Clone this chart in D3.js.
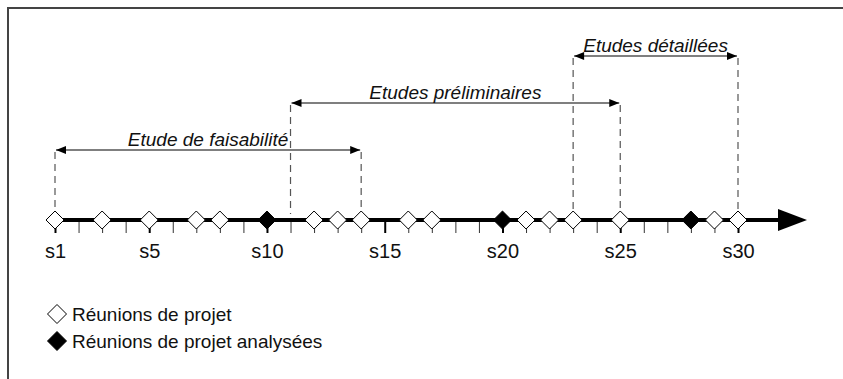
<!DOCTYPE html>
<html>
<head>
<meta charset="utf-8">
<script src="https://cdn.jsdelivr.net/npm/d3@7"></script>
<style>
  html, body { margin: 0; padding: 0; background: #fff; overflow: hidden; }
  svg { display: block; overflow: hidden; }
  text { font-family: "Liberation Sans", Arial, Helvetica, sans-serif; }
</style>
</head>
<body>
<svg id="chart" width="843" height="379"></svg>
<script>
// ---- data ----
const weeks = d3.range(1, 31);                       // s1 .. s30
const tickLabels = [1, 5, 10, 15, 20, 25, 30];        // labelled weeks
const meetings = [1, 3, 5, 7, 8, 12, 13, 14, 16, 17, 21, 22, 23, 25, 29, 30];
const analysedMeetings = [10, 20, 28];
const phaseNames = ["Etude de faisabilité", "Etudes préliminaires", "Etudes détaillées"];
const phaseStart = [1, 11, 23];
const phaseEnd = [14, 25, 30];
const phaseLevel = [0, 1, 2];
const legendLabels = ["Réunions de projet", "Réunions de projet analysées"];

// ---- layout ----
const svg = d3.select("#chart");
const axisY = 220;
const x = d3.scaleLinear().domain([1, 30]).range([55, 738]);
const yLevel = d3.scaleLinear().domain([0, 2]).range([150, 56]);

// frame (only top and left edges fall inside the picture)
svg.append("path")
  .attr("d", "M8,400 L8,8 L860,8")
  .attr("fill", "none").attr("stroke", "#444").attr("stroke-width", 2);

// arrow marker
const defs = svg.append("defs");
defs.append("marker")
  .attr("id", "ah")
  .attr("viewBox", "0 0 10 8")
  .attr("refX", 10).attr("refY", 4)
  .attr("markerWidth", 11).attr("markerHeight", 8)
  .attr("markerUnits", "userSpaceOnUse")
  .attr("orient", "auto-start-reverse")
  .append("path").attr("d", "M0,0 L10,4 L0,8 Z").attr("fill", "#000");

// dashed guides
phaseNames.forEach((n, i) => {
  [phaseStart[i], phaseEnd[i]].forEach(w => {
    svg.append("line")
      .attr("x1", x(w)).attr("x2", x(w))
      .attr("y1", yLevel(phaseLevel[i]) + 2).attr("y2", axisY - 6)
      .attr("stroke", "#555").attr("stroke-width", 1.2)
      .attr("stroke-dasharray", "7,5");
  });
});

// phase arrows + labels
const phases = svg.append("g");
phaseNames.forEach((n, i) => {
  const yy = yLevel(phaseLevel[i]);
  phases.append("line")
    .attr("x1", x(phaseStart[i]) + 1).attr("x2", x(phaseEnd[i]) - 1)
    .attr("y1", yy).attr("y2", yy)
    .attr("stroke", "#000").attr("stroke-width", 1.2)
    .attr("marker-start", "url(#ah)").attr("marker-end", "url(#ah)");
  phases.append("text")
    .attr("x", (x(phaseStart[i]) + x(phaseEnd[i])) / 2)
    .attr("y", yy - 4)
    .attr("text-anchor", "middle")
    .attr("font-size", 19).attr("font-style", "italic")
    .attr("fill", "#111")
    .text(n);
});

// axis ticks and labels
const axis = d3.axisBottom(x)
  .tickValues(weeks)
  .tickSize(13)
  .tickPadding(11)
  .tickFormat(d => tickLabels.includes(d) ? "s" + d : "");
const gAxis = svg.append("g").attr("transform", `translate(0,${axisY})`).call(axis);
gAxis.select(".domain").remove();
gAxis.selectAll(".tick line")
  .attr("stroke", d => tickLabels.includes(d) ? "#000" : "#333")
  .attr("stroke-width", d => tickLabels.includes(d) ? 2 : 1);
gAxis.selectAll(".tick text")
  .attr("font-size", 20).attr("fill", "#111")
  .attr("font-family", "\"Liberation Sans\", Arial, Helvetica, sans-serif");

// main axis line + arrowhead
svg.append("line")
  .attr("x1", x(1) - 6).attr("x2", x(30) + 44)
  .attr("y1", axisY).attr("y2", axisY)
  .attr("stroke", "#000").attr("stroke-width", 4);
svg.append("path")
  .attr("d", `M${x(30) + 40},${axisY - 11} L${x(30) + 69},${axisY} L${x(30) + 40},${axisY + 11} Z`)
  .attr("fill", "#000");

// diamonds
const diamond = r => `M0,${-r} L${r},0 L0,${r} L${-r},0 Z`;
svg.append("g").selectAll("path.m").data(meetings).join("path")
  .attr("class", "m")
  .attr("d", diamond(9))
  .attr("transform", d => `translate(${x(d)},${axisY})`)
  .attr("fill", "#fff").attr("stroke", "#000").attr("stroke-width", 1);
svg.append("g").selectAll("path.a").data(analysedMeetings).join("path")
  .attr("class", "a")
  .attr("d", diamond(9))
  .attr("transform", d => `translate(${x(d)},${axisY})`)
  .attr("fill", "#000").attr("stroke", "#000").attr("stroke-width", 1);

// legend
const legend = svg.append("g").attr("transform", "translate(57,314)");
legendLabels.forEach((l, i) => {
  const g = legend.append("g").attr("transform", `translate(0,${i * 27})`);
  g.append("path").attr("d", diamond(9.5))
    .attr("fill", i === 0 ? "#fff" : "#000")
    .attr("stroke", "#000").attr("stroke-width", 1);
  g.append("text").attr("x", 15).attr("y", 7)
    .attr("font-size", 19).attr("fill", "#111").text(l);
});
</script>
</body>
</html>
